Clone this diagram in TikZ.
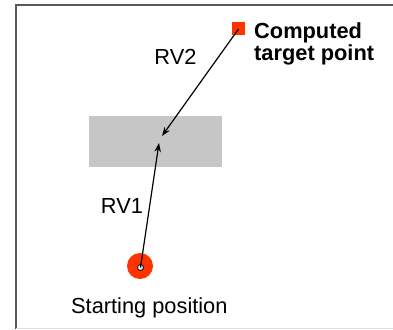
\documentclass[tikz,border=0pt]{standalone}
\usepackage{fontspec}
\setmainfont{Liberation Sans}
\usetikzlibrary{arrows.meta}
\definecolor{markred}{HTML}{FF3300}
\definecolor{zonegray}{HTML}{C6C6C6}
\definecolor{pinfill}{HTML}{DDEFF2}
\tikzset{
  lbl/.style={font=\fontsize{21.8}{22}\selectfont, inner sep=0pt},
  vec/.style={black, line width=1.2pt, -{Stealth[length=9pt,width=6.5pt]}},
}
\begin{document}
\begin{tikzpicture}[x=1pt,y=-1pt]
  \useasboundingbox (0,0) rectangle (393,329);
  \fill[white] (0,0) rectangle (393,329);
  % frame
  \draw[gray!70!black, line width=2pt] (16,329) -- (16,5.5) -- (393,5.5);
  \draw[gray!25, line width=1pt] (16,328) -- (393,328);
  % intermediate zone
  \node[fill=zonegray, minimum width=133pt, minimum height=51pt, inner sep=0pt] (zone) at (155.5,141.5) {};
  % computed target
  \node[fill=markred, minimum size=13pt, inner sep=0pt] (tgt) at (238.5,29) {};
  % starting position marker
  \node[circle, fill=markred, minimum size=26pt, inner sep=0pt] (start) at (140,266) {};
  \node[circle, fill=pinfill, draw=black, line width=0.8pt, minimum size=6pt, inner sep=0pt] (pin) at (140.5,267.5) {};
  % vector tips
  \coordinate (tipA) at (159,143);
  \coordinate (tipB) at (162,136);
  \draw[vec] (pin.center) -- (tipA);
  \draw[vec] (tgt.center) -- (tipB);
  % labels
  \node[lbl] (rv2) at (175.5,57) {RV2};
  \node[lbl] (rv1) at (122,206) {RV1};
  \node[lbl, anchor=base west] (tgtlbl) at (254,38) {\textbf{Computed}};
  \node[lbl, anchor=base west] (tgtlbl2) at (254,60) {\textbf{target point}};
  \node[lbl, anchor=base west] (startlbl) at (71,313) {Starting position};
\end{tikzpicture}
\end{document}
